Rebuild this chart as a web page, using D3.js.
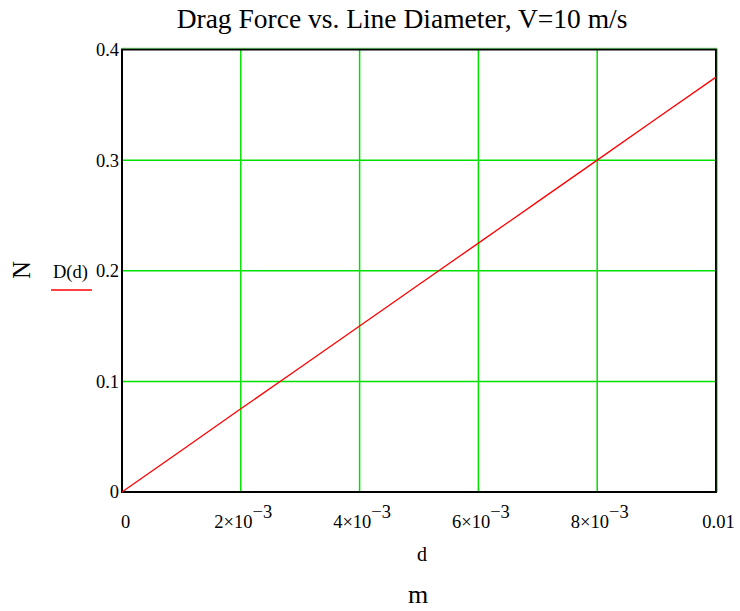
<!DOCTYPE html>
<html>
<head>
<meta charset="utf-8">
<script src="https://cdn.jsdelivr.net/npm/d3@7"></script>
<style>
  body { margin: 0; background: #fff; }
  text { font-family: "Liberation Serif", "Times New Roman", serif; fill: #000; }
</style>
</head>
<body>
<div id="chart"></div>
<script>
// d in metres, drag force in newtons
const diameters = [0, 0.001, 0.002, 0.003, 0.004, 0.005, 0.006, 0.007, 0.008, 0.009, 0.01];
const dragForce = [0, 0.0375, 0.0752, 0.1125, 0.15, 0.1876, 0.225, 0.2625, 0.3, 0.3376, 0.375];
const xTicks = [0, 0.002, 0.004, 0.006, 0.008, 0.01];
const xTickLabels = ["0", "2×10|−3", "4×10|−3", "6×10|−3", "8×10|−3", "0.01"];
const yTicks = [0, 0.1, 0.2, 0.3, 0.4];
const yTickLabels = ["0", "0.1", "0.2", "0.3", "0.4"];

function drawChart() {
    const width = 740, height = 611;
    const margin = { top: 49.5, right: 24, bottom: 119, left: 122 };
    const innerWidth = width - margin.left - margin.right;
    const innerHeight = height - margin.top - margin.bottom;

    const svg = d3.select("#chart")
        .append("svg")
        .attr("width", width)
        .attr("height", height);

    const g = svg.append("g")
        .attr("transform", `translate(${margin.left},${margin.top})`);

    const x = d3.scaleLinear().domain([0, 0.01]).range([0, innerWidth]);
    const y = d3.scaleLinear().domain([0, 0.4]).range([innerHeight, 0]);

    // grid
    g.selectAll(".vgrid")
        .data(xTicks.slice(1, -1))
        .enter()
        .append("line")
        .attr("x1", d => x(d)).attr("x2", d => x(d))
        .attr("y1", 0).attr("y2", innerHeight)
        .attr("stroke", "#00e000")
        .attr("stroke-width", 1.5);

    g.selectAll(".hgrid")
        .data(yTicks.slice(1, -1))
        .enter()
        .append("line")
        .attr("x1", 0).attr("x2", innerWidth)
        .attr("y1", d => y(d)).attr("y2", d => y(d))
        .attr("stroke", "#00e000")
        .attr("stroke-width", 1.5);

    // frame
    g.append("rect")
        .attr("width", innerWidth)
        .attr("height", innerHeight)
        .attr("fill", "none")
        .attr("stroke", "#000")
        .attr("stroke-width", 2);

    // greenish top and right edges
    g.append("line")
        .attr("x1", 0).attr("x2", innerWidth + 1)
        .attr("y1", -1.2).attr("y2", -1.2)
        .attr("stroke", "#3aa83a").attr("stroke-width", 0.8);
    g.append("line")
        .attr("x1", innerWidth + 1.2).attr("x2", innerWidth + 1.2)
        .attr("y1", -1).attr("y2", innerHeight)
        .attr("stroke", "#3aa83a").attr("stroke-width", 0.8);

    // axes (labels only, no tick marks)
    const xAxis = d3.axisBottom(x).tickValues(xTicks).tickSize(0).tickFormat("");
    const xa = g.append("g")
        .attr("transform", `translate(0,${innerHeight})`)
        .call(xAxis);
    xa.select(".domain").remove();
    xa.selectAll(".tick").each(function(d, i) {
        const parts = xTickLabels[i].split("|");
        const t = d3.select(this).append("text")
            .attr("x", i === 0 ? 3 : (i === xTicks.length - 1 ? 2 : 2))
            .attr("y", 36)
            .attr("text-anchor", "middle")
            .style("font-size", "18.5px");
        t.append("tspan").text(parts[0]);
        if (parts[1]) {
            t.append("tspan")
                .attr("dy", -10)
                .style("font-size", "18.5px")
                .text(parts[1]);
        }
    });

    const yAxis = d3.axisLeft(y).tickValues(yTicks).tickSize(0).tickFormat("");
    const ya = g.append("g").call(yAxis);
    ya.select(".domain").remove();
    ya.selectAll(".tick").append("text")
        .attr("x", -3)
        .attr("dy", "0.32em")
        .attr("text-anchor", "end")
        .style("font-size", "18.5px")
        .text((d, i) => yTickLabels[i]);

    // the curve
    const line = d3.line()
        .x((d, i) => x(diameters[i]))
        .y(d => y(d));

    g.append("path")
        .datum(dragForce)
        .attr("fill", "none")
        .attr("stroke", "#ff0000")
        .attr("stroke-width", 1.3)
        .attr("d", line);

    // title
    svg.append("text")
        .attr("x", 402)
        .attr("y", 28)
        .attr("text-anchor", "middle")
        .style("font-size", "27.5px")
        .text("Drag Force vs. Line Diameter, V=10 m/s");

    // y label and legend
    svg.append("text")
        .attr("transform", "translate(30,270) rotate(-90)")
        .attr("text-anchor", "middle")
        .style("font-size", "25px")
        .text("N");

    svg.append("text")
        .attr("x", 53)
        .attr("y", 278)
        .style("font-size", "18.5px")
        .text("D(d)");

    svg.append("line")
        .attr("x1", 51).attr("x2", 92)
        .attr("y1", 290).attr("y2", 290)
        .attr("stroke", "#ff0000")
        .attr("stroke-width", 1.5);

    // x labels
    svg.append("text")
        .attr("x", 422)
        .attr("y", 561)
        .attr("text-anchor", "middle")
        .style("font-size", "20px")
        .text("d");

    svg.append("text")
        .attr("x", 418)
        .attr("y", 603)
        .attr("text-anchor", "middle")
        .style("font-size", "26px")
        .text("m");
}

drawChart();
</script>
</body>
</html>
